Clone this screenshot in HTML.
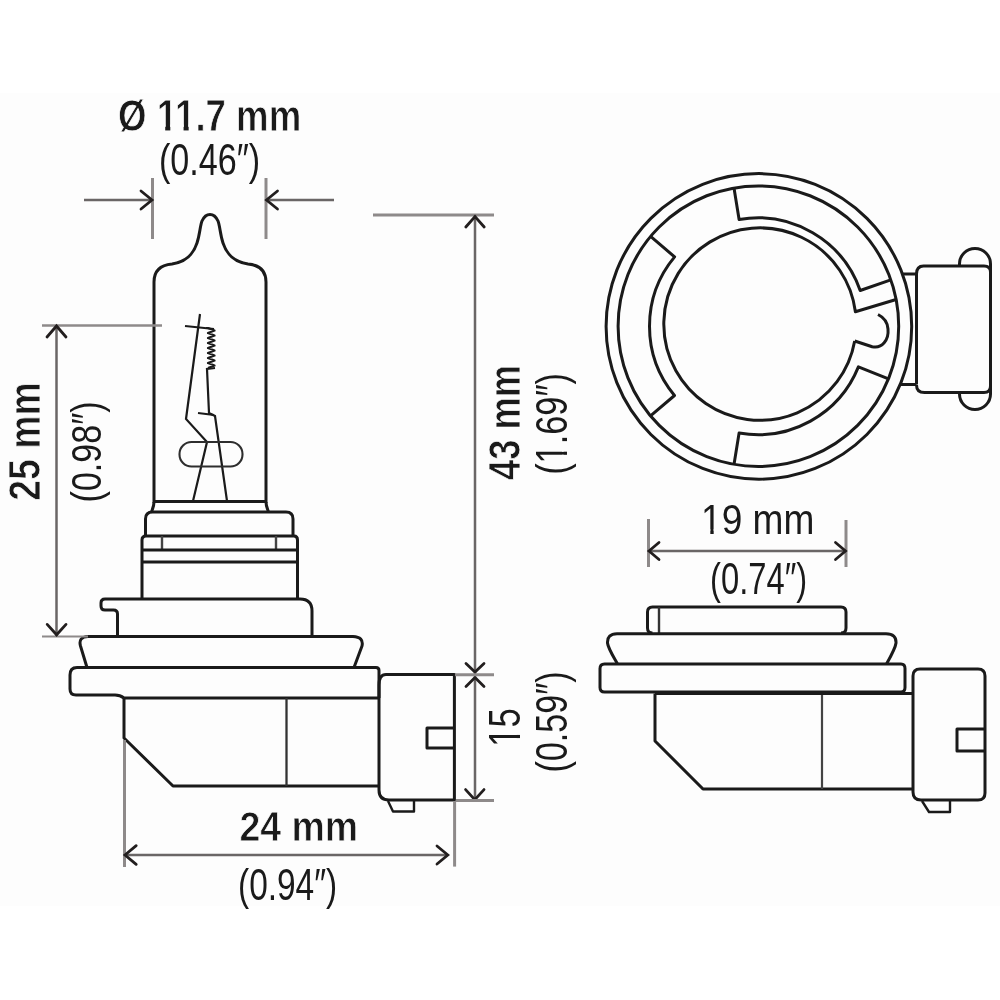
<!DOCTYPE html>
<html><head><meta charset="utf-8"><title>H9 bulb dimensions</title>
<style>html,body{margin:0;padding:0;background:#fff;} svg{display:block;will-change:transform;}</style></head>
<body><svg width="1000" height="1000" viewBox="0 0 1000 1000">
<rect x="0" y="0" width="1000" height="1000" fill="#ffffff"/>
<rect x="0" y="93" width="1000" height="813" fill="#fdfdfd"/>
<line x1="152.5" y1="178" x2="152.5" y2="239" stroke="#8e8a8a" stroke-width="3.0" stroke-linecap="butt"/>
<line x1="266" y1="178" x2="266" y2="239" stroke="#8e8a8a" stroke-width="3.0" stroke-linecap="butt"/>
<line x1="84" y1="200" x2="152" y2="200" stroke="#6a6666" stroke-width="2.5" stroke-linecap="butt"/>
<path d="M141,191 L152,200 L141,209" stroke="#221e1e" stroke-width="2.8" fill="none" stroke-linejoin="miter" stroke-linecap="round"/>
<line x1="267" y1="200" x2="334" y2="200" stroke="#6a6666" stroke-width="2.5" stroke-linecap="butt"/>
<path d="M277.5,191 L266.5,200 L277.5,209" stroke="#221e1e" stroke-width="2.8" fill="none" stroke-linejoin="miter" stroke-linecap="round"/>
<path d="M154,503 L154,282 C154,270 161,265 172,264 C186,262 193,255 197,243 C200,234 200,226 202,221 C204,216.5 207,214.5 210,214.5 C213,214.5 216,216.5 218,221 C220,226 220,234 223,243 C227,255 234,262 248,264 C259,265 266,270 266,282 L266,503" stroke="#1a1a1a" stroke-width="3.0" fill="none" stroke-linejoin="round" stroke-linecap="butt"/>
<path d="M200,314 L186,419 L207,442 L193,501" stroke="#1a1a1a" stroke-width="2.2" fill="none" stroke-linejoin="miter" stroke-linecap="butt"/>
<line x1="185" y1="326" x2="214" y2="329" stroke="#1a1a1a" stroke-width="2.2" stroke-linecap="butt"/>
<path d="M206,328 L208,328.0 L214.5,330.5 L208,333.0 L214.5,335.5 L208,338.0 L214.5,340.5 L208,343.0 L214.5,345.5 L208,348.0 L214.5,350.5 L208,353.0 L214.5,355.5 L208,358.0 L214.5,360.5 L208,363.0 L214.5,365.5 L208,368.0" stroke="#1a1a1a" stroke-width="2.2" fill="none" stroke-linejoin="round" stroke-linecap="butt"/>
<path d="M215,368 L207,369 L209,413 L215,416 L227,501" stroke="#1a1a1a" stroke-width="2.2" fill="none" stroke-linejoin="miter" stroke-linecap="butt"/>
<line x1="198" y1="413" x2="214" y2="415" stroke="#1a1a1a" stroke-width="2.2" stroke-linecap="butt"/>
<rect x="179.5" y="442" width="63" height="24.5" rx="12" ry="12" stroke="#2e2e2e" stroke-width="2.1" fill="none"/>
<line x1="154" y1="501.5" x2="266" y2="501.5" stroke="#1a1a1a" stroke-width="3.2" stroke-linecap="butt"/>
<path d="M154,502 C154,506 152.5,509 151.5,512" stroke="#1a1a1a" stroke-width="3.0" fill="none" stroke-linejoin="round" stroke-linecap="butt"/>
<path d="M266,502 C266,506 267.5,509 268.5,512" stroke="#1a1a1a" stroke-width="3.0" fill="none" stroke-linejoin="round" stroke-linecap="butt"/>
<path d="M145.5,536 L145.5,519 Q145.5,512 152.5,512 L286,512 Q293,512 293,519 L293,536" stroke="#1a1a1a" stroke-width="3.0" fill="none" stroke-linejoin="round" stroke-linecap="butt"/>
<path d="M142,599 L142,540 Q142,536 146,536 L294,536 Q297.5,536 297.5,540 L297.5,599" stroke="#1a1a1a" stroke-width="3.0" fill="none" stroke-linejoin="round" stroke-linecap="butt"/>
<line x1="162" y1="536" x2="162" y2="550" stroke="#444" stroke-width="2.4" stroke-linecap="butt"/>
<line x1="276" y1="536" x2="276" y2="550" stroke="#444" stroke-width="2.4" stroke-linecap="butt"/>
<line x1="142" y1="550" x2="297.5" y2="550" stroke="#1a1a1a" stroke-width="3.0" stroke-linecap="butt"/>
<line x1="142" y1="562" x2="297.5" y2="562" stroke="#1a1a1a" stroke-width="3.0" stroke-linecap="butt"/>
<path d="M117.5,636.5 L117.5,614 Q117.5,610 113.5,610 L105,610 Q101,610 101,606 L101,603 Q101,599 105,599 L300,599 Q312,599 312,611 L312,636.5" stroke="#1a1a1a" stroke-width="3.0" fill="none" stroke-linejoin="round" stroke-linecap="butt"/>
<path d="M354,667.5 L362,646 Q364,637 353,636.5 L88,636.5 Q78,637 80.5,646 L87,667.5" stroke="#1a1a1a" stroke-width="3.0" fill="none" stroke-linejoin="round" stroke-linecap="butt"/>
<path d="M70,675 Q70,667.5 77,667.5 L376,667.5 Q379,667.5 379,670.5 L379,698" stroke="#1a1a1a" stroke-width="3.0" fill="none" stroke-linejoin="round" stroke-linecap="butt"/>
<path d="M70,675 L70,689 Q70,695 76,695 L115,695 Q120,695 124,698 L379,698" stroke="#1a1a1a" stroke-width="3.0" fill="none" stroke-linejoin="round" stroke-linecap="butt"/>
<path d="M124,698 L124,738 L173,786 L379,786" stroke="#1a1a1a" stroke-width="3.0" fill="none" stroke-linejoin="round" stroke-linecap="butt"/>
<line x1="286.5" y1="698" x2="286.5" y2="786" stroke="#333" stroke-width="2.3" stroke-linecap="butt"/>
<path d="M386,674.5 L454.4,674.5 L454.4,800 L389,800 Q379,800 379,790 L379,685 Q379,674.5 386,674.5" stroke="#1a1a1a" stroke-width="3.0" fill="none" stroke-linejoin="round" stroke-linecap="butt"/>
<path d="M454.4,728 L427,728 L427,748 L454.4,748" stroke="#1a1a1a" stroke-width="3.0" fill="none" stroke-linejoin="round" stroke-linecap="butt"/>
<path d="M388,801 L393,811.5 L414,811.5 L414,801" stroke="#1a1a1a" stroke-width="2.4" fill="none" stroke-linejoin="round" stroke-linecap="butt"/>
<line x1="373" y1="215" x2="494" y2="215" stroke="#8e8a8a" stroke-width="3.0" stroke-linecap="butt"/>
<line x1="475" y1="215" x2="475" y2="800" stroke="#6a6666" stroke-width="2.5" stroke-linecap="butt"/>
<path d="M465.8,227.0 L475,216.5 L484.2,227.0" stroke="#221e1e" stroke-width="2.8" fill="none" stroke-linejoin="miter" stroke-linecap="round"/>
<path d="M466,663.5 L475,672 L484,663.5" stroke="#221e1e" stroke-width="2.8" fill="none" stroke-linejoin="miter" stroke-linecap="round"/>
<path d="M466,686.4 L475,677.4 L484,686.4" stroke="#221e1e" stroke-width="2.8" fill="none" stroke-linejoin="miter" stroke-linecap="round"/>
<path d="M465.6,789.6 L474.8,799.6 L484.0,789.6" stroke="#221e1e" stroke-width="2.8" fill="none" stroke-linejoin="miter" stroke-linecap="round"/>
<line x1="455" y1="674.7" x2="494" y2="674.7" stroke="#8e8a8a" stroke-width="3.0" stroke-linecap="butt"/>
<line x1="456" y1="800.6" x2="494" y2="800.6" stroke="#8e8a8a" stroke-width="3.0" stroke-linecap="butt"/>
<line x1="42" y1="325.5" x2="162" y2="325.5" stroke="#8e8a8a" stroke-width="2.6" stroke-linecap="butt"/>
<line x1="42" y1="636.5" x2="88" y2="636.5" stroke="#8e8a8a" stroke-width="2.2" stroke-linecap="butt"/>
<line x1="56.5" y1="326" x2="56.5" y2="636" stroke="#6a6666" stroke-width="2.5" stroke-linecap="butt"/>
<path d="M47.0,337 L56.5,326 L66.0,337" stroke="#221e1e" stroke-width="2.8" fill="none" stroke-linejoin="miter" stroke-linecap="round"/>
<path d="M47.2,624.4 L56.6,634.8 L66.0,624.4" stroke="#221e1e" stroke-width="2.8" fill="none" stroke-linejoin="miter" stroke-linecap="round"/>
<line x1="124.5" y1="740" x2="124.5" y2="867" stroke="#8e8a8a" stroke-width="3.0" stroke-linecap="butt"/>
<line x1="454.6" y1="801" x2="454.6" y2="866.6" stroke="#8e8a8a" stroke-width="3.0" stroke-linecap="butt"/>
<line x1="125" y1="855" x2="447" y2="855" stroke="#6a6666" stroke-width="2.5" stroke-linecap="butt"/>
<path d="M136.2,845.7 L125,855 L136.2,864.3" stroke="#221e1e" stroke-width="2.8" fill="none" stroke-linejoin="miter" stroke-linecap="round"/>
<path d="M437.0,846 L447.8,855 L437.0,864" stroke="#221e1e" stroke-width="2.8" fill="none" stroke-linejoin="miter" stroke-linecap="round"/>
<circle cx="758.9" cy="326.4" r="152.8" stroke="#1a1a1a" stroke-width="3.0" fill="none"/>
<circle cx="758.4" cy="326.2" r="140.3" stroke="#1a1a1a" stroke-width="3.0" fill="none"/>
<path d="M650.5,415.8 L674.5,395.5 A108.4,108.4 0 0 1 674.6,256.9 L650.6,236.4" stroke="#1a1a1a" stroke-width="3.0" fill="none" stroke-linejoin="round" stroke-linecap="butt"/>
<path d="M734.0,188.0 L739.1,219.5 A108.4,108.4 0 0 1 860.2,290.5 L890.8,279.8" stroke="#1a1a1a" stroke-width="3.0" fill="none" stroke-linejoin="round" stroke-linecap="butt"/>
<path d="M888.5,378.8 L858.4,366.9 A108.4,108.4 0 0 1 739.1,433.1 L734.0,464.4" stroke="#1a1a1a" stroke-width="3.0" fill="none" stroke-linejoin="round" stroke-linecap="butt"/>
<path d="M854.7,341 A96.2,96.2 0 1 1 855.4,311.7 L895.3,299.8" stroke="#1a1a1a" stroke-width="3.0" fill="none" stroke-linejoin="round" stroke-linecap="butt"/>
<path d="M854.7,341 L872.2,346.7 C882,349 889,340 888,329 C887.5,322 883,317 878,314.5" stroke="#1a1a1a" stroke-width="3.0" fill="none" stroke-linejoin="round" stroke-linecap="butt"/>
<line x1="902" y1="274" x2="916.5" y2="274" stroke="#1a1a1a" stroke-width="3.0" stroke-linecap="butt"/>
<line x1="900" y1="384.5" x2="916.5" y2="384.5" stroke="#1a1a1a" stroke-width="3.0" stroke-linecap="butt"/>
<path d="M916.5,384.5 L916.5,274 Q916.5,266 923.5,266 L984,266 Q990.5,266 990.5,272 L990.5,386 Q990.5,392.5 984,392.5 L924.5,392.5 Q916.5,392.5 916.5,385" stroke="#1a1a1a" stroke-width="3.0" fill="none" stroke-linejoin="round" stroke-linecap="butt"/>
<path d="M959.5,266.5 L959.5,264 A15.5,15.5 0 0 1 990.5,264 L990.5,274" stroke="#1a1a1a" stroke-width="3.0" fill="none" stroke-linejoin="round" stroke-linecap="butt"/>
<path d="M959.5,392 L959.5,394 A15.5,15.5 0 0 0 990.5,394 L990.5,384" stroke="#1a1a1a" stroke-width="3.0" fill="none" stroke-linejoin="round" stroke-linecap="butt"/>
<line x1="648.5" y1="519" x2="648.5" y2="567" stroke="#8e8a8a" stroke-width="3.0" stroke-linecap="butt"/>
<line x1="846" y1="520" x2="846" y2="567" stroke="#8e8a8a" stroke-width="3.0" stroke-linecap="butt"/>
<line x1="649" y1="551" x2="845.5" y2="551" stroke="#6a6666" stroke-width="2.5" stroke-linecap="butt"/>
<path d="M659,542.5 L649,551 L659,559.5" stroke="#221e1e" stroke-width="2.8" fill="none" stroke-linejoin="miter" stroke-linecap="round"/>
<path d="M835.5,542.5 L845.5,551 L835.5,559.5" stroke="#221e1e" stroke-width="2.8" fill="none" stroke-linejoin="miter" stroke-linecap="round"/>
<path d="M652.5,633 Q647.5,633 647.5,628 L647.5,612 Q647.5,607 652.5,607 L841,607 Q846,607 846,612 L846,628 Q846,633 841,633" stroke="#1a1a1a" stroke-width="3.0" fill="none" stroke-linejoin="round" stroke-linecap="butt"/>
<line x1="659" y1="607" x2="659" y2="633" stroke="#333" stroke-width="2.4" stroke-linecap="butt"/>
<path d="M617.5,664 C613,656 608,648 607.5,643 Q607,634 617,633.8 L886,633.8 Q896.5,634 896,643 C895.5,648 891,656 886.5,664" stroke="#1a1a1a" stroke-width="3.0" fill="none" stroke-linejoin="round" stroke-linecap="butt"/>
<path d="M604.5,692 Q600,692 600,687.5 L600,668.5 Q600,664 604.5,664 L901,664 Q905,664 905,668.5 L905,687.5 Q905,692 901,692 L604.5,692" stroke="#1a1a1a" stroke-width="3.0" fill="none" stroke-linejoin="round" stroke-linecap="butt"/>
<path d="M655,693.5 L655,741 L703,789 L913,789" stroke="#1a1a1a" stroke-width="3.0" fill="none" stroke-linejoin="round" stroke-linecap="butt"/>
<line x1="822" y1="693.5" x2="822" y2="789" stroke="#444" stroke-width="2.2" stroke-linecap="butt"/>
<line x1="913" y1="693.5" x2="655" y2="693.5" stroke="#1a1a1a" stroke-width="3.0" stroke-linecap="butt"/>
<path d="M913,676 Q913,669 920,669 L978,669 Q985,669 985,676 L985,793 Q985,800 978,800 L921,800 Q913,800 913,792 Z" stroke="#1a1a1a" stroke-width="3.0" fill="none" stroke-linejoin="round" stroke-linecap="butt"/>
<path d="M985,729 L957,729 L957,751 L985,751" stroke="#1a1a1a" stroke-width="3.0" fill="none" stroke-linejoin="round" stroke-linecap="butt"/>
<path d="M922,801 L929,812 L950,812 L950,801" stroke="#1a1a1a" stroke-width="2.4" fill="none" stroke-linejoin="round" stroke-linecap="butt"/>
<g transform="translate(118.03,131.00) scale(0.3663,0.4500)"><text font-family="Liberation Sans, sans-serif" font-weight="bold" font-size="100" fill="#1a1a1a" stroke="#fdfdfd" stroke-width="1.8">Ø 11.7 mm</text><rect x="108.49" y="-14.16" width="20.31" height="16.16" fill="#fdfdfd"/><rect x="142.72" y="-14.16" width="18.51" height="16.16" fill="#fdfdfd"/><rect x="158.59" y="-14.16" width="20.31" height="16.16" fill="#fdfdfd"/><rect x="192.81" y="-14.16" width="18.51" height="16.16" fill="#fdfdfd"/></g>
<g transform="translate(158.95,175.00) scale(0.3415,0.4429)"><text font-family="Liberation Sans, sans-serif" font-weight="normal" font-size="100" fill="#1a1a1a" stroke="#fdfdfd" stroke-width="0">(0.46″)</text></g>
<g transform="translate(239.38,840.50) scale(0.3750,0.4214)"><text font-family="Liberation Sans, sans-serif" font-weight="bold" font-size="100" fill="#1a1a1a" stroke="#fdfdfd" stroke-width="1.8">24 mm</text></g>
<g transform="translate(237.99,900.00) scale(0.3345,0.4429)"><text font-family="Liberation Sans, sans-serif" font-weight="normal" font-size="100" fill="#1a1a1a" stroke="#fdfdfd" stroke-width="0">(0.94″)</text></g>
<g transform="translate(701.03,534.10) scale(0.3711,0.4243)"><text font-family="Liberation Sans, sans-serif" font-weight="normal" font-size="100" fill="#1a1a1a" stroke="#fdfdfd" stroke-width="0">19 mm</text><rect x="4.39" y="-11.72" width="20.65" height="13.72" fill="#fdfdfd"/><rect x="34.08" y="-11.72" width="19.63" height="13.72" fill="#fdfdfd"/></g>
<g transform="translate(710.04,593.50) scale(0.3275,0.4500)"><text font-family="Liberation Sans, sans-serif" font-weight="normal" font-size="100" fill="#1a1a1a" stroke="#fdfdfd" stroke-width="0">(0.74″)</text></g>
<g transform="translate(40.00,500.72) rotate(-90) scale(0.3740,0.4457)"><text font-family="Liberation Sans, sans-serif" font-weight="bold" font-size="100" fill="#1a1a1a" stroke="#fdfdfd" stroke-width="1.8">25 mm</text></g>
<g transform="translate(100.80,502.45) rotate(-90) scale(0.3408,0.4343)"><text font-family="Liberation Sans, sans-serif" font-weight="normal" font-size="100" fill="#1a1a1a" stroke="#fdfdfd" stroke-width="0">(0.98″)</text></g>
<g transform="translate(520.00,479.92) rotate(-90) scale(0.3625,0.4457)"><text font-family="Liberation Sans, sans-serif" font-weight="bold" font-size="100" fill="#1a1a1a" stroke="#fdfdfd" stroke-width="1.8">43 mm</text></g>
<g transform="translate(567.20,474.86) rotate(-90) scale(0.3437,0.4457)"><text font-family="Liberation Sans, sans-serif" font-weight="normal" font-size="100" fill="#1a1a1a" stroke="#fdfdfd" stroke-width="0">(1.69″)</text><rect x="37.69" y="-11.72" width="20.65" height="13.72" fill="#fdfdfd"/><rect x="67.38" y="-11.72" width="19.63" height="13.72" fill="#fdfdfd"/></g>
<g transform="translate(520.00,746.78) rotate(-90) scale(0.3475,0.4343)"><text font-family="Liberation Sans, sans-serif" font-weight="normal" font-size="100" fill="#1a1a1a" stroke="#fdfdfd" stroke-width="0">15</text><rect x="4.39" y="-11.72" width="20.65" height="13.72" fill="#fdfdfd"/><rect x="34.08" y="-11.72" width="19.63" height="13.72" fill="#fdfdfd"/></g>
<g transform="translate(567.20,772.45) rotate(-90) scale(0.3408,0.4457)"><text font-family="Liberation Sans, sans-serif" font-weight="normal" font-size="100" fill="#1a1a1a" stroke="#fdfdfd" stroke-width="0">(0.59″)</text></g>
</svg></body></html>
